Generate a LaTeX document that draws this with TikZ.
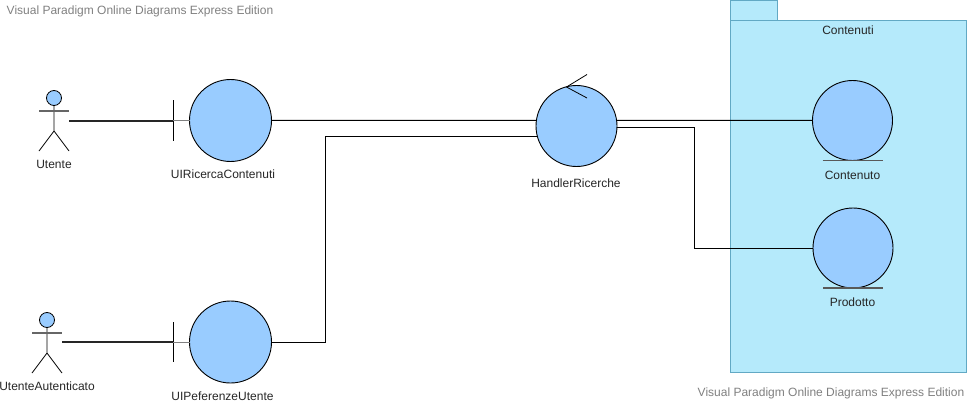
\documentclass[tikz,border=0pt]{standalone}
\usepackage{fontspec}
\setmainfont{Liberation Sans}
\usetikzlibrary{calc}
\definecolor{ballblue}{HTML}{99CCFF}
\definecolor{pkgfill}{HTML}{B5EAFB}
\definecolor{pkgedge}{HTML}{62A9C4}
\definecolor{markgray}{HTML}{808080}
\tikzset{
    ball/.style={draw, shape=circle, fill=ballblue, inner sep=0, outer sep=0, line width=0.9pt},
    head/.style={draw, shape=circle, fill=ballblue, inner sep=0, outer sep=0, minimum size=15pt, line width=0.8pt},
    txt/.style={inner sep=0, font=\fontsize{12}{14}\selectfont, text=black!85},
    watermark/.style={inner sep=0, font=\fontsize{12}{14}\selectfont, text=markgray},
    wire/.style={draw=black, line width=1pt},
    pkg/.style={draw=pkgedge, fill=pkgfill, line width=0.9pt}
}
\begin{document}
\begin{tikzpicture}[x=1pt, y=-1pt]
    \useasboundingbox (0, 0) rectangle (970, 404);

    % Package
    \draw[pkg] (730.5, 0.5) rectangle (777.5, 20.5);
    \draw[pkg] (730.5, 20.5) rectangle (966.5, 372.5);

    % Balls
    \node[ball, minimum size=82pt] (UIRicercaContenuti) at (230.5, 120.5) {};
    \node[ball, minimum size=82pt] (UIPeferenzeUtente) at (230.5, 342) {};
    \node[ball, minimum size=81pt] (HandlerRicerche) at (576.5, 126) {};
    \node[ball, minimum size=80pt] (Contenuto) at (852.5, 120.5) {};
    \node[ball, minimum size=80pt] (Prodotto) at (853, 248) {};

    % Actors
    \node[head] (UtenteHead) at (54, 98) {};
    \node[head] (AutenticatoHead) at (47, 320) {};
    \foreach \a in {UtenteHead, AutenticatoHead} {
        \draw[line width=0.8pt] (\a.south) -- ++(0, 25.5) -- ++(-15, 20);
        \draw[line width=0.8pt] ($(\a.south) + (0, 25.5)$) -- ++(15, 20);
        \draw[draw=black!60, line width=1.2pt] ($(\a.south) + (-15, 5.5)$) -- ++(30, 0);
    }
    \coordinate (UtenteHand) at (69, 121);
    \coordinate (AutenticatoHand) at (62, 342);

    % Boundary bars
    \foreach \b in {UIRicercaContenuti, UIPeferenzeUtente} {
        \coordinate (\b Bar) at ($(\b.west) + (-16.5, 0)$);
        \draw[line width=0.9pt] ($(\b Bar) + (0, -20)$) -- ($(\b Bar) + (0, 20)$);
        \draw[draw=black!50, line width=1pt] (\b Bar) -- (\b.west);
    }

    % Entity bars
    \foreach \e in {Contenuto, Prodotto}
        \draw[draw=black!65, line width=1.3pt] ($(\e.south) + (-30, 0)$) -- ($(\e.south) + (30, 0)$);

    % Control arrow
    \coordinate (ArrowTip) at (566.5, 87);
    \draw[line width=0.8pt] (587, 74.5) -- (ArrowTip) -- (587, 98);

    % Lines
    \draw[draw=black!85, line width=1.4pt] (UtenteHand) -- (UtenteHand -| UIRicercaContenutiBar);
    \draw[draw=black!85, line width=1.4pt] (AutenticatoHand) -- (UIPeferenzeUtenteBar);
    \draw[wire] (UIRicercaContenuti.east) -- (HandlerRicerche.172);
    \draw[wire] (HandlerRicerche.8) -- (Contenuto.west);
    \draw[wire] (UIPeferenzeUtente.0.7) -- ++(54, 0) |- (HandlerRicerche.195.6);
    \draw[wire] (HandlerRicerche.-2) -- ++(78, 0) |- (Prodotto.west);

    % Labels
    \node[txt] (UtenteLabel) at (54, 164.5) {Utente};
    \node[txt] (UIRicercaLabel) at (223, 174.5) {UIRicercaContenuti};
    \node[txt] (AutenticatoLabel) at (47, 386.5) {UtenteAutenticato};
    \node[txt] (UIPeferenzeLabel) at (222.5, 396.5) {UIPeferenzeUtente};
    \node[txt] (HandlerLabel) at (576, 183) {HandlerRicerche};
    \node[txt] (PackageLabel) at (848, 30.5) {Contenuti};
    \node[txt] (ContenutoLabel) at (852.5, 175) {Contenuto};
    \node[txt] (ProdottoLabel) at (852.5, 302) {Prodotto};
    \node[watermark] (MarkTop) at (140, 11) {Visual Paradigm Online Diagrams Express Edition};
    \node[watermark] (MarkBottom) at (831, 393.5) {Visual Paradigm Online Diagrams Express Edition};

\end{tikzpicture}
\end{document}
